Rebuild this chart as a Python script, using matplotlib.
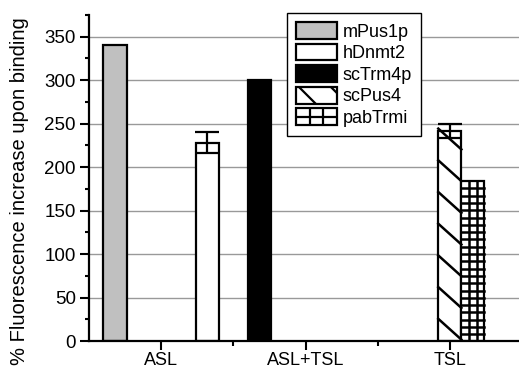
import numpy as np
import matplotlib
matplotlib.use("Agg")
import matplotlib.pyplot as plt
from matplotlib.patches import Rectangle, Patch
from matplotlib.lines import Line2D
from matplotlib.legend_handler import HandlerPatch
from matplotlib.ticker import MultipleLocator, FixedLocator
from matplotlib.transforms import IdentityTransform

plt.rcParams['font.family'] = ['Liberation Sans', 'DejaVu Sans']

# data
categories = ['ASL', 'ASL+TSL', 'TSL']
series = ['mPus1p', 'hDnmt2', 'scTrm4p', 'scPus4', 'pabTrmi']
nan = np.nan
values = {
    'mPus1p':  [340, nan, nan],
    'hDnmt2':  [228, nan, nan],
    'scTrm4p': [nan, 300, nan],
    'scPus4':  [nan, nan, 242],
    'pabTrmi': [nan, nan, 184],
}
errors = {
    'hDnmt2': [12, 0, 0],
    'scPus4': [0, 0, 8],
}

# style / placement of each series inside a group
slot = {'mPus1p': -2, 'hDnmt2': 2, 'scTrm4p': -2, 'scPus4': 0, 'pabTrmi': 1}
fill = {'mPus1p': '#c0c0c0', 'hDnmt2': 'white', 'scTrm4p': 'black',
        'scPus4': 'white', 'pabTrmi': 'white'}
pattern = {'scPus4': 'diag', 'pabTrmi': 'grid'}
bar_w = 0.16
lw = 1.6

fig = plt.figure(figsize=(5.19, 3.72), dpi=100)
ax = fig.add_axes([89 / 519, 31 / 372, 433 / 519, 326 / 372])
ax.set_xlim(0.5, 3.5)
ax.set_ylim(0, 375)

x = np.arange(1, len(categories) + 1)


def diag_lines(x0, y0, x1, y1, step, slope):
    # descending lines (left-high to right-low), phase set from the top edge
    segs = []
    w = x1 - x0
    c = y1 + 2
    while c - slope * w > y0 - step:
        segs.append(([x0, x1], [c, c - slope * w]))
        c -= step
    c = y1 + 2 + step
    while c - slope * w < y1:
        segs.append(([x0, x1], [c, c - slope * w]))
        c += step
    return segs


def grid_lines(x0, y0, x1, y1, step, ncol=3):
    segs = []
    for k in range(1, ncol):
        xx = x0 + (x1 - x0) * k / ncol
        segs.append(([xx, xx], [y0, y1]))
    yy = y1 - step
    while yy > y0:
        segs.append(([x0, x1], [yy, yy]))
        yy -= step
    return segs


bars = {}
for name in series:
    v = np.array(values[name], dtype=float)
    ok = ~np.isnan(v)
    xs = x[ok] + slot[name] * bar_w
    b = ax.bar(xs, v[ok], width=bar_w, color=fill[name], edgecolor='black',
               linewidth=lw, zorder=3)
    bars[name] = b
    if name in errors:
        e = np.array(errors[name], dtype=float)[ok]
        ax.errorbar(xs, v[ok], yerr=e, fmt='none', ecolor='black',
                    elinewidth=lw, capsize=8.5, capthick=lw, zorder=5)

# hatch patterns drawn as clipped line sets in pixel space
for name, kind in pattern.items():
    for rect in bars[name]:
        (px0, py0), (px1, py1) = ax.transData.transform(
            [(rect.get_x(), rect.get_y()),
             (rect.get_x() + rect.get_width(), rect.get_y() + rect.get_height())])
        if kind == 'diag':
            segs = diag_lines(px0, py0, px1, py1, 31.7, 0.9)
        else:
            segs = grid_lines(px0, py0, px1, py1, 7.3)
        for sx, sy in segs:
            ln = Line2D(sx, sy, transform=IdentityTransform(), color='black',
                        lw=1.8, zorder=4)
            ln.set_clip_path(rect)
            ax.add_artist(ln)

# axes styling
ax.yaxis.set_major_locator(MultipleLocator(50))
ax.yaxis.set_minor_locator(MultipleLocator(25))
ax.set_yticks(np.arange(0, 351, 50))
ax.set_xticks(x)
ax.set_xticklabels(categories)
ax.xaxis.set_minor_locator(FixedLocator(x[:-1] + 0.5))
ax.grid(axis='y', color='#999999', linewidth=1.0, zorder=0)
ax.set_axisbelow(True)

for s in ['top', 'right']:
    ax.spines[s].set_visible(False)
for s in ['left', 'bottom']:
    ax.spines[s].set_linewidth(1.6)
    ax.spines[s].set_zorder(6)

ax.tick_params(axis='y', which='major', direction='out', length=6.5, width=1.5,
               labelsize=13.5, pad=3)
ax.tick_params(axis='y', which='minor', direction='out', length=3, width=1.5)
ax.tick_params(axis='x', which='major', direction='out', length=6.5, width=1.5,
               labelsize=13, pad=1.5)
ax.tick_params(axis='x', which='minor', direction='out', length=3.5, width=1.5)

ax.set_ylabel('% Fluorescence increase upon binding', fontsize=14.5)
ax.yaxis.set_label_coords(-0.139, 0.459)


# legend handles with the same line patterns
class PatternHandler(HandlerPatch):
    def __init__(self, kind):
        super().__init__()
        self.kind = kind

    def create_artists(self, legend, orig_handle, xdescent, ydescent, width,
                       height, fontsize, trans):
        r = Rectangle((-xdescent, -ydescent), width, height,
                      facecolor='white', edgecolor='black', linewidth=lw,
                      transform=trans)
        x0, y0 = -xdescent, -ydescent
        x1, y1 = x0 + width, y0 + height
        if self.kind == 'diag':
            segs = diag_lines(x0, y0, x1, y1, 23, 1.0)
        else:
            segs = grid_lines(x0, y0, x1, y1, height / 2)
        arts = [r]
        for sx, sy in segs:
            ln = Line2D(sx, sy, color='black', lw=lw, transform=trans)
            ln.set_clip_path(r)
            arts.append(ln)
        return arts


handles = [Patch(facecolor=fill[n], edgecolor='black', linewidth=lw)
           for n in series]
hmap = {handles[series.index(n)]: PatternHandler(k) for n, k in pattern.items()}
leg = ax.legend(handles, series, handler_map=hmap, loc='upper left',
                bbox_to_anchor=(287 / 519, 1 - 13 / 372),
                bbox_transform=fig.transFigure, borderaxespad=0,
                fontsize=13, handlelength=2.25, handleheight=1.05,
                labelspacing=0.17, handletextpad=0.35, borderpad=0.5,
                fancybox=False, framealpha=1, edgecolor='black')
leg.get_frame().set_linewidth(1.0)
leg.set_zorder(7)

fig.savefig('out.png', dpi=100)
